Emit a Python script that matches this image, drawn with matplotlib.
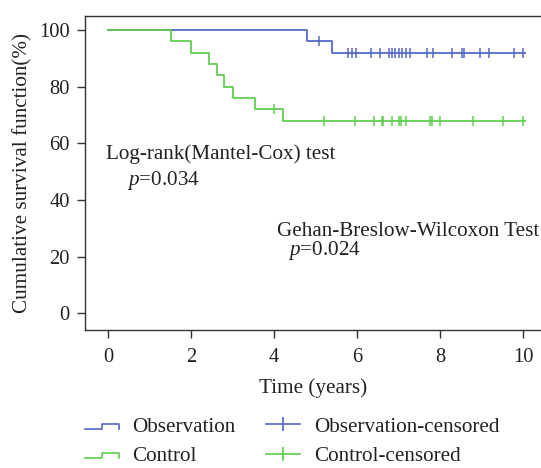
import matplotlib
matplotlib.use("Agg")
import matplotlib.pyplot as plt
from matplotlib.lines import Line2D
from matplotlib.legend_handler import HandlerBase
import numpy as np

# ---------------- data ----------------
obs_event_times = [4.79, 5.39]
obs_event_surv = [96.0, 91.8]
obs_censor_times = [5.09, 5.79, 5.87, 5.98, 6.34, 6.55, 6.77, 6.83, 6.92, 7.00, 7.08,
                    7.18, 7.28, 7.68, 7.82, 8.28, 8.52, 8.58, 8.96, 9.19, 9.78, 9.99]

ctrl_event_times = [1.52, 1.99, 2.42, 2.61, 2.80, 3.00, 3.53, 4.21]
ctrl_event_surv = [96.0, 92.0, 88.0, 84.0, 80.0, 76.0, 72.0, 67.8]
ctrl_censor_times = [4.00, 5.20, 5.95, 6.41, 6.60, 6.63, 6.84, 7.00, 7.06, 7.18,
                     7.76, 7.80, 8.00, 8.80, 9.51, 9.99]

end_time = 10.05
x_ticks = [0, 2, 4, 6, 8, 10]
y_ticks = [0, 20, 40, 60, 80, 100]

series_labels = ["Observation", "Control", "Observation-censored", "Control-censored"]
blue = "#5265c8"
green = "#5ccd4c"

plt.rcParams['font.family'] = ['Liberation Serif', 'DejaVu Serif']
plt.rcParams['mathtext.fontset'] = 'custom'
plt.rcParams['mathtext.rm'] = 'Liberation Serif'
plt.rcParams['mathtext.it'] = 'Liberation Serif:italic'
FS = 15.2
TFS = 14.8

def step_curve(times, surv, end):
    xs = [0.0] + list(times) + [end]
    ys = [100.0] + list(surv) + [surv[-1]]
    return np.array(xs), np.array(ys)

def surv_at(t, times, surv):
    s = 100.0
    for tt, ss in zip(times, surv):
        if t >= tt:
            s = ss
    return s

fig = plt.figure(figsize=(5.41, 4.68), dpi=100)
ax = fig.add_axes([85/541, (468-329.7)/468, (541-85)/541, (329.7-16)/468])

ox, oy = step_curve(obs_event_times, obs_event_surv, end_time)
cx, cy = step_curve(ctrl_event_times, ctrl_event_surv, end_time)

ax.step(ox, oy, where='post', color=blue, lw=1.4, alpha=0.9)
ax.step(cx, cy, where='post', color=green, lw=1.4, alpha=0.9)

ax.plot(obs_censor_times, [surv_at(t, obs_event_times, obs_event_surv) for t in obs_censor_times],
        ls='none', marker='|', ms=7, mew=1.2, color=blue, alpha=0.9)
ax.plot(ctrl_censor_times, [surv_at(t, ctrl_event_times, ctrl_event_surv) for t in ctrl_censor_times],
        ls='none', marker='|', ms=7, mew=1.2, color=green, alpha=0.9)

ax.set_xlim(-0.561, 10.434)
ax.set_ylim(-5.8, 104.9)
ax.set_xticks(x_ticks)
ax.set_yticks(y_ticks)
ax.tick_params(axis='both', labelsize=TFS, length=6, width=1.0, color='#333333',
               labelcolor='#222222')
ax.tick_params(axis='y', pad=5)
ax.tick_params(axis='x', pad=7)
for s in ['left', 'bottom', 'top']:
    ax.spines[s].set_linewidth(1.0)
    ax.spines[s].set_color('#333333')
ax.spines['right'].set_visible(False)

ax.set_xlabel("Time (years)", fontsize=FS, color='#222222', labelpad=8)
ax.set_ylabel("Cumulative survival function(%)", fontsize=FS, color='#222222', labelpad=5)

ax.text(-0.06, 56, "Log-rank(Mantel-Cox) test", fontsize=FS, va='center', ha='left', color='#222222')
ax.text(0.45, 46.7, r"$p$=0.034", fontsize=FS, va='center', ha='left', color='#222222')
ax.text(4.07, 29, "Gehan-Breslow-Wilcoxon Test", fontsize=FS, va='center', ha='left', color='#222222')
ax.text(4.33, 22, r"$p$=0.024", fontsize=FS, va='center', ha='left', color='#222222')

class StepHandler(HandlerBase):
    def create_artists(self, legend, orig_handle, xdescent, ydescent, width, height, fontsize, trans):
        x0 = -xdescent
        y0 = -ydescent
        yl = y0 + 0.2 * height
        yh = y0 + 0.55 * height
        xs = [x0, x0 + 0.5 * width, x0 + 0.5 * width, x0 + width, x0 + width]
        ys = [yl, yl, yh, yh, yl]
        ln = Line2D(xs, ys, color=orig_handle.get_color(), lw=1.2)
        ln.set_transform(trans)
        return [ln]

h_obs = Line2D([], [], color=blue)
h_ctrl = Line2D([], [], color=green)
h_obs_c = Line2D([], [], color=blue, marker='|', ms=10, mew=1.2, lw=1.2)
h_ctrl_c = Line2D([], [], color=green, marker='|', ms=10, mew=1.2, lw=1.2)

leg = fig.legend([h_obs, h_ctrl, h_obs_c, h_ctrl_c], series_labels, ncol=2,
                 loc='upper left', bbox_to_anchor=(85/541, 1 - 417/468),
                 frameon=False, fontsize=FS, numpoints=1,
                 handlelength=1.6, handletextpad=0.65, columnspacing=1.45,
                 labelspacing=0.45, borderpad=0, borderaxespad=0,
                 handler_map={h_obs: StepHandler(), h_ctrl: StepHandler()})
for t in leg.get_texts():
    t.set_color('#222222')

fig.savefig("out.png", dpi=100)
